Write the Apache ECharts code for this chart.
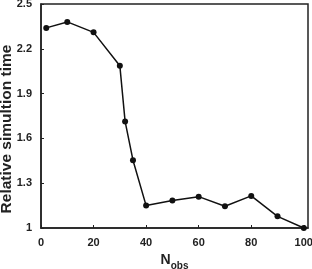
<!DOCTYPE html>
<html>
<head>
<meta charset="utf-8">
<script src="https://cdn.jsdelivr.net/npm/echarts@6/dist/echarts.min.js"></script>
<style>html,body{margin:0;padding:0;background:#fff}#c{width:312px;height:269px}</style>
</head>
<body>
<div id="c"></div>
<script>
var xValues = [2, 10, 20, 30, 32, 35, 40, 50, 60, 70, 80, 90, 100];
var yValues = [2.34, 2.38, 2.31, 2.087, 1.714, 1.454, 1.15, 1.184, 1.21, 1.146, 1.215, 1.078, 1.0];
var xTicks = [0, 20, 40, 60, 80, 100];
var yTicks = [1, 1.3, 1.6, 1.9, 2.2, 2.5];

var chart = echarts.init(document.getElementById('c'), null, {renderer: 'canvas'});
var font = 'Liberation Sans, Arial, sans-serif';
chart.setOption({
  animation: false,
  grid: {left: 41, top: 4, right: 4, bottom: 41, outerBoundsMode: 'none', containLabel: false, show: true, borderColor: '#222', borderWidth: 1.5, backgroundColor: 'transparent'},
  xAxis: {
    type: 'value', min: 0, max: 101.6,
    axisLine: {show: true, lineStyle: {color: '#222', width: 1.5}},
    axisTick: {show: true, inside: true, length: 3, customValues: xTicks, lineStyle: {color: '#222'}},
    axisLabel: {customValues: xTicks, margin: 9, color: '#222', fontWeight: 'bold', fontSize: 11, fontFamily: font},
    splitLine: {show: false},
    name: '{n|N}{s|obs}', nameLocation: 'middle', nameGap: 25,
    nameTextStyle: {
      rich: {
        n: {fontSize: 14, fontWeight: 'bold', color: '#222', fontFamily: font, verticalAlign: 'bottom'},
        s: {fontSize: 10, fontWeight: 'bold', color: '#222', fontFamily: font, verticalAlign: 'bottom', padding: [0, 0, -4, 0]}
      }
    }
  },
  yAxis: {
    type: 'value', min: 1, max: 2.5,
    axisLine: {show: true, lineStyle: {color: '#222', width: 1.5}},
    axisTick: {show: true, inside: true, length: 3, customValues: yTicks, lineStyle: {color: '#222'}},
    axisLabel: {customValues: yTicks, margin: 9, color: '#222', fontWeight: 'bold', fontSize: 11, fontFamily: font},
    splitLine: {show: false},
    name: 'Relative simultion time', nameLocation: 'middle', nameGap: 26, nameRotate: 90, nameMoveOverlap: false,
    nameTextStyle: {fontSize: 15.5, fontWeight: 'bold', color: '#222', fontFamily: font, padding: [0, 26, 0, 0]}
  },
  series: [{
    type: 'line',
    data: xValues.map(function (x, i) { return [x, yValues[i]]; }),
    symbol: 'circle', symbolSize: 6,
    lineStyle: {color: '#111', width: 1.5},
    itemStyle: {color: '#111'}
  }]
});
</script>
</body>
</html>
